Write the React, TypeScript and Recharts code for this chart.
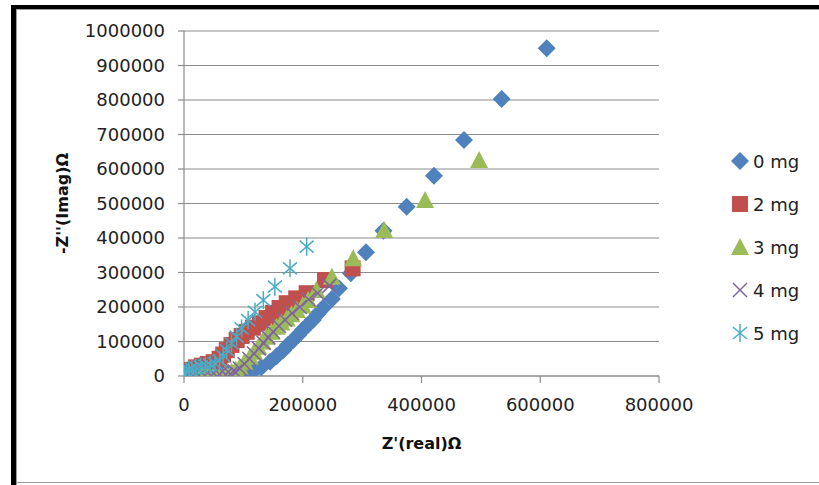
import React from "react";
import { ScatterChart, Scatter, XAxis, YAxis, CartesianGrid } from "recharts";

const seriesNames = ["0 mg", "2 mg", "3 mg", "4 mg", "5 mg"];
const colors = ["#4F81BD", "#C0504D", "#9BBB59", "#8064A2", "#4BACC6"];

const xTicks = [0, 200000, 400000, 600000, 800000];
const yTicks = [0, 100000, 200000, 300000, 400000, 500000, 600000, 700000, 800000, 900000, 1000000];

const x0mg = [0, 3000, 8000, 15000, 25000, 35000, 45000, 55000, 65000, 75000, 85000, 95000, 105000, 116000, 130000, 145000, 156000, 167000, 175000, 184000, 192000, 200000, 208000, 217000, 225000, 234000, 249000, 261000, 281000, 306500, 336000, 375000, 421000, 471600, 535000, 610800];
const y0mg = [2000, 6000, 9000, 11000, 12000, 12000, 11000, 10000, 9000, 8000, 7000, 7000, 8000, 12500, 25000, 41000, 57000, 75000, 90000, 104000, 118000, 133000, 147000, 162000, 180000, 197000, 223000, 254000, 297700, 358500, 421000, 490800, 580600, 684000, 803000, 950000];

const x2mg = [0, 2000, 5000, 10000, 20000, 30000, 40000, 50000, 60000, 66000, 72000, 80000, 88700, 97000, 105600, 116000, 128000, 139000, 150000, 161000, 173000, 189000, 206600, 237500, 284000];
const y2mg = [3000, 6000, 10000, 18000, 25000, 30000, 35000, 40000, 50000, 62000, 75000, 90000, 104000, 116000, 128000, 140000, 153000, 168000, 183000, 197000, 211000, 225000, 240000, 278000, 312000];

const x3mg = [1000, 5000, 10000, 20000, 30000, 40000, 50000, 60000, 70000, 80000, 87000, 94000, 102000, 111000, 118000, 125000, 132000, 139000, 147000, 156000, 164000, 173000, 181000, 190000, 200000, 209000, 223000, 249000, 285000, 337000, 406000, 497000];
const y3mg = [0, 2000, 3000, 4000, 5000, 5000, 5000, 6000, 8000, 12500, 19000, 27000, 41000, 56000, 70000, 85000, 100000, 114000, 128000, 143000, 155000, 167000, 179000, 191000, 205000, 220000, 249000, 288000, 341000, 423000, 510000, 626000];

const x4mg = [1000, 5000, 10000, 20000, 30000, 40000, 50000, 60000, 70000, 78000, 86000, 94000, 102000, 110000, 118000, 126000, 134000, 142000, 150000, 160000, 170000, 182000, 195000, 210000, 225000, 245000];
const y4mg = [2000, 5000, 8000, 10000, 10000, 10000, 8000, 5000, 4000, 6000, 12000, 22000, 35000, 50000, 65000, 80000, 96000, 112000, 128000, 145000, 163000, 182000, 200000, 222000, 240000, 262000];

const x5mg = [1000, 4000, 8000, 13000, 20000, 28000, 36000, 44000, 52000, 60000, 66000, 72000, 80000, 88700, 97000, 108000, 119600, 133600, 153000, 178500, 206600];
const y5mg = [5000, 12000, 18000, 22000, 25000, 28000, 30000, 33000, 37000, 45000, 58000, 75000, 95000, 114000, 138000, 162000, 186000, 220000, 259000, 312000, 375000];

const build = (xs: number[], ys: number[]) => xs.map((x, i) => ({ x, y: ys[i] }));
const seriesData = [
  build(x0mg, y0mg),
  build(x2mg, y2mg),
  build(x3mg, y3mg),
  build(x4mg, y4mg),
  build(x5mg, y5mg),
];

const FONT = "'DejaVu Sans', sans-serif";
const GRID = "#8C8C8C";

function Marker({ kind, cx, cy }: { kind: number; cx: number; cy: number }) {
  const c = colors[kind];
  if (kind === 0) {
    const s = 9;
    return <polygon points={`${cx},${cy - s} ${cx + s},${cy} ${cx},${cy + s} ${cx - s},${cy}`} fill={c} />;
  }
  if (kind === 1) {
    const s = 8;
    return <rect x={cx - s} y={cy - s} width={2 * s} height={2 * s} fill={c} />;
  }
  if (kind === 2) {
    return <polygon points={`${cx},${cy - 9} ${cx + 9},${cy + 8} ${cx - 9},${cy + 8}`} fill={c} />;
  }
  if (kind === 3) {
    const s = 7;
    return (
      <g stroke={c} strokeWidth={1.5}>
        <line x1={cx - s} y1={cy - s} x2={cx + s} y2={cy + s} />
        <line x1={cx - s} y1={cy + s} x2={cx + s} y2={cy - s} />
      </g>
    );
  }
  return (
    <g stroke={c} strokeWidth={1.5}>
      <line x1={cx} y1={cy - 9} x2={cx} y2={cy + 9} />
      <line x1={cx - 7} y1={cy - 6} x2={cx + 7} y2={cy + 6} />
      <line x1={cx - 7} y1={cy + 6} x2={cx + 7} y2={cy - 6} />
    </g>
  );
}

const makeShape = (kind: number) => (props: any) => {
  if (props.cx == null || props.cy == null) return <g />;
  return <Marker kind={kind} cx={props.cx} cy={props.cy} />;
};

export default function App() {
  return (
    <div style={{ position: "absolute", left: 0, top: 0, width: 819, height: 485, background: "#fff", overflow: "hidden" }}>
      <ScatterChart width={819} height={485} margin={{ top: 31, right: 160, left: 0, bottom: 34 }}>
        <CartesianGrid horizontal={true} vertical={false} stroke={GRID} strokeWidth={1.2} />
        <XAxis
          type="number"
          dataKey="x"
          domain={[0, 800000]}
          ticks={xTicks}
          interval={0}
          height={75}
          allowDataOverflow
          axisLine={{ stroke: GRID, strokeWidth: 1.2 }}
          tickLine={{ stroke: GRID, strokeWidth: 1.2 }}
          tickSize={7}
          tickMargin={15}
          tick={{ fill: "#222", fontSize: 18, fontFamily: FONT }}
          label={{ value: "Z'(real)Ω", position: "insideBottom", offset: 2, fill: "#111", fontSize: 16, fontWeight: "bold", fontFamily: FONT }}
        />
        <YAxis
          type="number"
          dataKey="y"
          domain={[0, 1000000]}
          ticks={yTicks}
          interval={0}
          width={184}
          allowDataOverflow
          axisLine={{ stroke: GRID, strokeWidth: 1.2 }}
          tickLine={{ stroke: GRID, strokeWidth: 1.2 }}
          tickSize={6}
          tickMargin={13}
          tick={{ fill: "#222", fontSize: 18, fontFamily: FONT }}
          label={{ value: "-Z''(Imag)Ω", angle: -90, position: "center", dx: -30, fill: "#111", fontSize: 16, fontWeight: "bold", fontFamily: FONT }}
        />
        {seriesData.map((d, i) => (
          <Scatter
            key={seriesNames[i]}
            name={seriesNames[i]}
            data={d}
            fill={colors[i]}
            shape={makeShape(i)}
            isAnimationActive={false}
          />
        ))}
      </ScatterChart>
      <svg width={120} height={230} style={{ position: "absolute", left: 720, top: 140 }}>
        {seriesNames.map((n, i) => {
          const cy = 21 + i * 43;
          return (
            <g key={n}>
              <Marker kind={i} cx={20} cy={cy} />
              <text x={33} y={cy + 6.5} fontSize={18} fontFamily={FONT} fill="#222">
                {n}
              </text>
            </g>
          );
        })}
      </svg>
      <div style={{ position: "absolute", left: 11, top: 5, width: 808, height: 4, background: "#000" }} />
      <div style={{ position: "absolute", left: 11, top: 5, width: 5, height: 480, background: "#000" }} />
      <div style={{ position: "absolute", left: 16, top: 9, width: 803, height: 1, background: "#9a9a9a" }} />
      <div style={{ position: "absolute", left: 16, top: 9, width: 1, height: 476, background: "#9a9a9a" }} />
      <div style={{ position: "absolute", left: 16, top: 482, width: 803, height: 1, background: "#9a9a9a" }} />
    </div>
  );
}
